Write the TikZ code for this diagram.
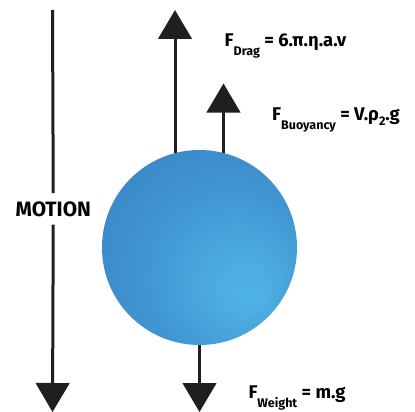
\documentclass[tikz,border=0pt]{standalone}
\usepackage{fontspec}
\setmainfont{Fira Sans}
\usetikzlibrary{arrows.meta}
\definecolor{arrowcol}{HTML}{1F1F1F}
\definecolor{ballhi}{HTML}{4EB1E4}
\definecolor{ballmid}{HTML}{4299D4}
\definecolor{balledge}{HTML}{3A86C6}
\pgfdeclareradialshading{ballshade}{\pgfpoint{13bp}{-12bp}}{%
  color(0bp)=(ballhi); color(6bp)=(ballhi!90!ballmid); color(20bp)=(ballmid); color(36bp)=(balledge); color(60bp)=(balledge)}
\newcommand{\mainsz}{\fontsize{18.4}{22}\selectfont\bfseries}
\newcommand{\sub}[1]{\raisebox{-9pt}{\fontsize{12.5}{14}\selectfont\bfseries #1}}
\newcommand{\subtwo}[1]{\raisebox{-5pt}{\fontsize{12.5}{14}\selectfont\bfseries #1}}
\tikzset{
  force/.style={draw=arrowcol, line width=3pt, -{Triangle[width=33.5pt,length=29pt]}, arrowcol},
  plain/.style={draw=arrowcol, line width=3pt},
  lbl/.style={anchor=base west, inner sep=0pt, font=\mainsz, text=black},
  ball/.style={circle, minimum size=195pt, inner sep=0pt, shade, shading=ballshade}
}
\begin{document}
\begin{tikzpicture}[x=1pt,y=-1pt]
\useasboundingbox (0,0) rectangle (415,412);
% coordinates
\coordinate (mtop) at (52.5,10);
\coordinate (mbot) at (52.5,412);
\coordinate (dbase) at (175,200);
\coordinate (dtip) at (175,10);
\coordinate (bbase) at (223.5,200);
\coordinate (btip) at (223.5,83.5);
\coordinate (wtip) at (199.5,412);
% motion
\node[anchor=base, font=\fontsize{20.8}{24}\selectfont\bfseries, inner xsep=2pt, inner ysep=8pt] (motion) at (53.3,216) {MOTION};
\draw[plain] (mtop) -- (motion);
\draw[force] (motion) -- (mbot);
% up forces
\draw[force] (dbase) -- (dtip);
\draw[force] (bbase) -- (btip);
% ball
\node[ball] (sphere) at (199.5,247.5) {};
% weight
\draw[force] (sphere.south) -- (wtip);
% labels
\node[lbl] (ldrag) at (224.5,46.7) {F\sub{Drag} = 6.π.η.a.v};
\node[lbl] (lbuoy) at (272,121) {F\sub{Buoyancy} = V.ρ\subtwo{2}.g};
\node[lbl] (lweight) at (248.3,398) {F\sub{Weight} = m.g};
\end{tikzpicture}
\end{document}
